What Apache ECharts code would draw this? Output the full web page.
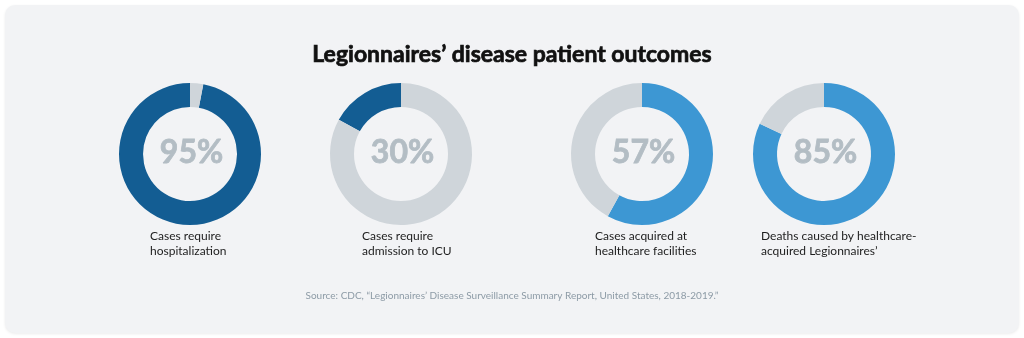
<!DOCTYPE html>
<html><head><meta charset="utf-8">
<script src="https://cdn.jsdelivr.net/npm/echarts@6/dist/echarts.min.js"></script>
<style>html,body{margin:0;padding:0;background:#fff}#c{width:1024px;height:338px}</style>
</head><body><div id="c"></div>
<script>
const chartTitle = 'Legionnaires\u2019 disease patient outcomes';
const percentLabels = ['95%', '30%', '57%', '85%'];
const captions = [
  ['Cases require', 'hospitalization'],
  ['Cases require', 'admission to ICU'],
  ['Cases acquired at', 'healthcare facilities'],
  ['Deaths caused by healthcare-', 'acquired Legionnaires\u2019']
];
// share of each ring drawn in colour
const filledShare = [97, 17, 58, 82];
const sourceText = 'Source: CDC, \u201cLegionnaires\u2019 Disease Surveillance Summary Report, United States, 2018-2019.\u201d';

const centersX = [190, 401, 642, 824];
const centerY = 154;
const captionX = [150, 362, 595, 761];
const ringColors = ['#135d93', '#135d93', '#3d97d3', '#3d97d3'];
const clockwiseFlags = [false, false, true, true];
const restColor = '#cfd5da';
const FONT = 'Lato, "Open Sans", sans-serif';

const chart = echarts.init(document.getElementById('c'), null, {renderer: 'canvas'});
const titles = [{
  text: chartTitle, left: 'center', top: 43, padding: 0,
  textStyle: {fontFamily: FONT, fontWeight: 'bold', fontSize: 23, color: '#111',
    textBorderColor: '#111', textBorderWidth: 0.7}
}, {
  text: sourceText, left: 'center', top: 291, padding: 0,
  textStyle: {fontFamily: FONT, fontWeight: 'normal', fontSize: 10, color: '#8d9ba6'}
}];
const series = [];
percentLabels.forEach((p, i) => {
  titles.push({
    text: p, left: centersX[i] + 1.5, top: centerY - 1, padding: 0, textAlign: 'center', textVerticalAlign: 'middle',
    textStyle: {fontFamily: FONT, fontWeight: 'bold', fontSize: 32, color: '#b3bdc4',
      textBorderColor: '#b3bdc4', textBorderWidth: 0.8}
  });
  titles.push({
    text: captions[i].join('\n'), left: captionX[i], top: 228, padding: 0,
    textStyle: {fontFamily: FONT, fontWeight: 'normal', fontSize: 12, lineHeight: 15.5, color: '#1d1d1d'}
  });
  series.push({
    type: 'pie', center: [centersX[i], centerY], radius: [47, 71],
    startAngle: 90, clockwise: clockwiseFlags[i], silent: true,
    label: {show: false}, labelLine: {show: false},
    itemStyle: {borderWidth: 0},
    emphasis: {disabled: true},
    data: [
      {value: filledShare[i], itemStyle: {color: ringColors[i]}},
      {value: 100 - filledShare[i], itemStyle: {color: restColor}}
    ]
  });
});
chart.setOption({
  backgroundColor: '#ffffff',
  animation: false,
  graphic: [{
    type: 'rect', z: -10, silent: true,
    shape: {x: 5, y: 5, width: 1014, height: 328, r: 10},
    style: {fill: '#f2f3f5', shadowBlur: 3, shadowColor: 'rgba(0,0,0,0.08)', shadowOffsetY: 1}
  }],
  title: titles,
  series: series
});
</script></body></html>
